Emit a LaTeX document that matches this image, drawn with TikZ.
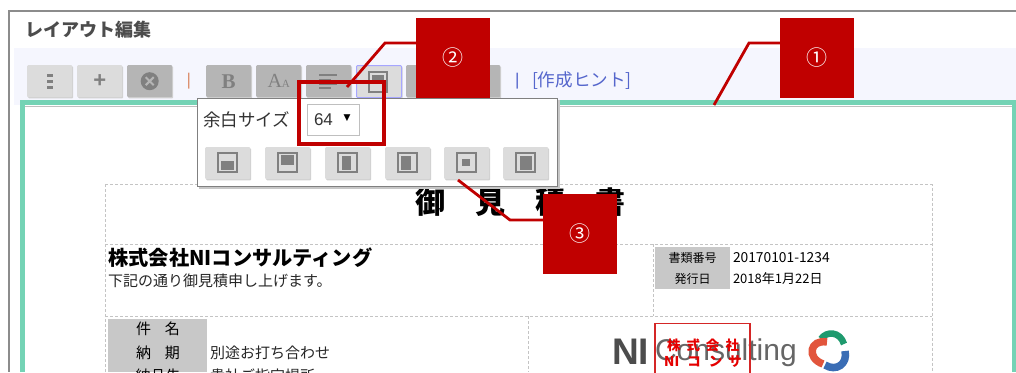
\documentclass[tikz,border=0pt]{standalone}
\usepackage{fontspec}
\setmainfont{Noto Sans CJK JP}
\newfontfamily\latin{Liberation Sans}
\newfontfamily\djv{DejaVu Sans}
\newfontfamily\serifl{Liberation Serif}
\definecolor{cred}{HTML}{C00000}
\definecolor{teal1}{HTML}{74D3B5}
\definecolor{panel}{HTML}{F5F6FE}
\definecolor{btn}{HTML}{DCDCDC}
\definecolor{btndark}{HTML}{B5B5B5}
\definecolor{ico}{HTML}{808080}
\definecolor{dash}{HTML}{C4C4C4}
\definecolor{cellg}{HTML}{C8C8C8}
\definecolor{linkc}{HTML}{5566CC}
\definecolor{sepc}{HTML}{DC9070}
\definecolor{logog}{HTML}{1E9A6E}
\definecolor{logor}{HTML}{E2553C}
\definecolor{logob}{HTML}{3A6DB5}
\tikzset{
 x=1pt,y=-1pt,
 lbl/.style={inner sep=0pt,outer sep=0pt,anchor=west,text=#1},
 lbl/.default=black,
 redbox/.style={fill=cred,draw=none,inner sep=0pt,minimum width=74pt,minimum height=80pt,anchor=north west,text=white,font=\fontsize{21}{21}\selectfont},
 redline/.style={draw=cred,line width=2.8pt,line join=miter},
 toolb/.style={fill=btn,draw=none,rounded corners=1pt,minimum width=45pt,minimum height=32pt,inner sep=0pt,anchor=north west,
   preaction={fill=black!18,transform canvas={xshift=1pt,yshift=-1.2pt}}},
 toolc/.style={toolb,fill=btndark},
 dline/.style={draw=dash,dash pattern=on 3pt off 2pt,line width=0.9pt},
}
\begin{document}
\begin{tikzpicture}
\useasboundingbox (0,0) rectangle (1016,372);
\begin{scope}
\clip (0,0) rectangle (1016,372);
\fill[white] (0,0) rectangle (1016,372);
% outer frame
\draw[draw=gray!90,line width=1.3pt] (1016,11) -- (9,11) -- (9,372);
% title
\node[lbl=black!70] (title) at (25,30) {\fontsize{18}{18}\selectfont\bfseries レイアウト編集};
% toolbar panel
\fill[panel] (14,48) rectangle (1016,105);
% green page
\fill[white] (24,105) rectangle (1012,372);
\draw[black!25,line width=.8pt] (25,106) -- (1012,106) -- (1012,372);
\draw[teal1,line width=5pt] (22.5,372) -- (22.5,102.7) -- (1014.5,102.7) -- (1014.5,372);
% toolbar buttons
\node[toolb] (b1) at (27,65) {};
\foreach \yy in {75.5,81.5,87.5}{\fill[ico] (47,\yy-1.7) rectangle (52.5,\yy+1.7);}
\node[toolb] (b2) at (77,65) {\latin\fontsize{22}{22}\selectfont\color{ico}\bfseries +};
\node[toolc] (b3) at (127,65) {};
\fill[ico] (b3.center) circle (9pt);
\draw[btndark,line width=2pt] (b3.center)+(-4,-4) -- +(4,4) (b3.center)+(-4,4) -- +(4,-4);
\node[lbl=sepc] (sep1) at (186.5,81) {\latin\fontsize{17}{17}\selectfont|};
\node[toolc] (b4) at (206,65) {\serifl\fontsize{21}{21}\selectfont\bfseries\color{ico}B};
\node[toolc] (b5) at (256,65) {\serifl\color{ico}\fontsize{20}{20}\selectfont A\fontsize{11}{11}\selectfont A};
\node[toolc] (b6) at (306,65) {};
\draw[ico,line width=1.3pt] (319,75)--(337,75) (319,79.5)--(331,79.5) (319,84)--(337,84) (319,88)--(331,88);
\node[toolb,draw=blue!35,line width=1pt,fill=btn] (b7) at (356,65) {};
\draw[ico,line width=1.4pt] (369,72) rectangle (387,92);
\fill[ico] (372,75) rectangle (384,82);
\node[toolc,minimum width=94pt] (b8) at (406,65) {};
\node[lbl=linkc] (sep2) at (515,81) {\latin\fontsize{17}{17}\selectfont|};
\node[lbl=linkc] (hint) at (532,81) {\fontsize{17.6}{17.6}\selectfont [作成ヒント]};
% document
\draw[dline] (105,184.5) -- (932,184.5) -- (932,372) (105,372) -- (105,184.5)
 (105,244) -- (932,244) (105,316) -- (932,316)
 (653,244) -- (653,316) (528,316) -- (528,372);
\node[font=\fontsize{30}{30}\selectfont\bfseries,inner sep=0pt] (mitsu) at (520,202) {御\hspace{30pt}見\hspace{30pt}積\hspace{30pt}書};
\node[lbl] (co) at (108.5,258) {\fontsize{20.2}{20.2}\selectfont\bfseries 株式会社NIコンサルティング};
\node[lbl=black!85] (sub) at (108,281) {\fontsize{15}{15}\selectfont 下記の通り御見積申し上げます。};
\fill[cellg] (655,247) rectangle (730,289);
\node[font=\fontsize{12}{12}\selectfont,inner sep=0pt] (t1) at (692.5,258) {書類番号};
\node[font=\fontsize{12}{12}\selectfont,inner sep=0pt] (t2) at (692.5,279) {発行日};
\node[lbl] (v1) at (733,258) {\fontsize{13.8}{13.8}\selectfont 20170101-1234};
\node[lbl] (v2) at (733,279) {\fontsize{13}{13}\selectfont 2018年1月22日};
\fill[cellg] (108,319) rectangle (207,372);
\node[font=\fontsize{15}{15}\selectfont,inner sep=0pt] (k1) at (158,329) {件\hspace{14pt}名};
\node[font=\fontsize{15}{15}\selectfont,inner sep=0pt] (k2) at (158,353) {納\hspace{14pt}期};
\node[font=\fontsize{15}{15}\selectfont,inner sep=0pt] (k3) at (158,376) {納品先};
\node[lbl=black!85] (n2) at (210,353) {\fontsize{15}{15}\selectfont 別途お打ち合わせ};
\node[lbl=black!85] (n3) at (210,376) {\fontsize{15}{15}\selectfont 貴社ご指定場所};
% logo
\node[lbl=black!70] (ni) at (612,352) {\latin\fontsize{37}{37}\selectfont\bfseries NI};
\node[lbl=black!60] (cons) at (655,353) {\latin\fontsize{30}{30}\selectfont Consulting};
\draw[logog,line width=6.5pt] (821,339) .. controls (826,331) and (840,331) .. (844,344);
\draw[logor,line width=7.5pt] (827,342) .. controls (810,339) and (806,358) .. (823,364);
\draw[logob,line width=7.5pt] (845,351) .. controls (848,364) and (836,372) .. (825,365);
\draw[red!80!black!85!white,line width=1.4pt] (655,323.5) rectangle (750,376);
\node[font=\fontsize{13.5}{13.5}\selectfont\bfseries,text=red!90!black,inner sep=0pt] (st1) at (703,345) {株\hspace{6pt}式\hspace{6pt}会\hspace{6pt}社};
\node[font=\fontsize{13.5}{13.5}\selectfont\bfseries,text=red!90!black,inner sep=0pt] (st2) at (703,362) {NI\hspace{8pt}コ\hspace{8pt}ン\hspace{6pt}サ};
% popup
\fill[black!22] (199,100) rectangle (560,189);
\draw[draw=gray,fill=white,line width=1pt] (197.5,98.5) rectangle (557.5,186.5);
\node[lbl=black!80] (ysz) at (203,120) {\fontsize{17.5}{17.5}\selectfont 余白サイズ};
\node[draw=gray!50,fill=white,minimum width=52pt,minimum height=31pt,inner sep=0pt,anchor=north west,line width=.6pt] (sel) at (307,104) {};
\node[lbl=black!80] (six) at (314,120) {\latin\fontsize{17}{17}\selectfont 64};
\node[inner sep=0pt] (arr) at (347,118.5) {\djv\fontsize{9}{9}\selectfont ▼};
\foreach \n/\x in {1/205,2/265,3/325,4/385,5/444,6/503}{
 \node[toolb] (p\n) at (\x,147) {};
 \draw[ico,line width=1.4pt] (\x+13,153) rectangle (\x+32,172);
}
\fill[ico] (221,161) rectangle (234,170);
\fill[ico] (281,155) rectangle (294,165);
\fill[ico] (342,156) rectangle (351,170);
\fill[ico] (401,156) rectangle (411,170);
\fill[ico] (462,159) rectangle (470,166);
\fill[ico] (520,156) rectangle (532,170);
% red callouts
\node[redbox] (c2) at (416,18) {\raisebox{3pt}{②}};
\node[redbox] (c1) at (780,18) {\raisebox{3pt}{①}};
\node[redbox] (c3) at (543,194) {\raisebox{3pt}{③}};
\draw[redline,line width=4pt] (299,82) rectangle (383.5,144);
\coordinate (e2) at (347,87);
\coordinate (m2) at (385,43);
\draw[redline] (e2) -- (m2) -- (c2.west |- m2);
\coordinate (e1) at (714,105);
\coordinate (m1) at (749,43);
\draw[redline] (e1) -- (m1) -- (c1.west |- m1);
\coordinate (e3) at (458,180);
\coordinate (m3) at (510,220);
\draw[redline] (e3) -- (m3) -- (c3.west |- m3);
\end{scope}
\end{tikzpicture}
\end{document}
